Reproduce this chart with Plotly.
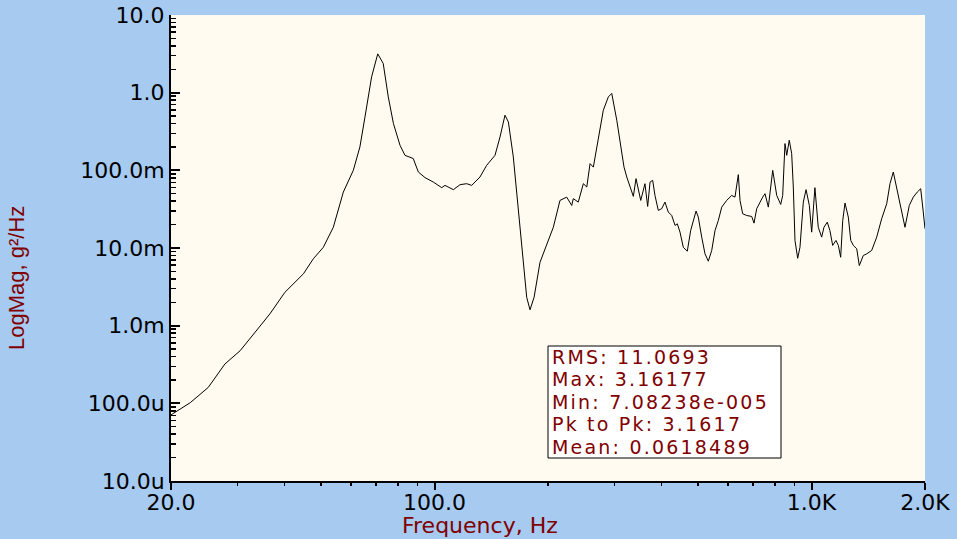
import plotly.graph_objects as go

# Frequency (Hz) and PSD magnitude (g^2/Hz)
freq_hz = [20, 22.5, 25.1, 27.8, 30.5, 33.1, 36.6, 40.1, 44.9, 47.7, 50.7, 53.9, 57.3, 60.9,
           63.4, 65.4, 68.1, 70.7, 73.1, 75.4, 77.8, 81.0, 83.5, 87.8, 90.6, 94.4, 99.3,
           104.5, 106.6, 112.2, 116.9, 121.7, 125.5, 132.0, 137.5, 144.7, 149.2, 153.8,
           157.0, 161.8, 166.8, 172.0, 175.6, 179.2, 183.7, 190.5, 198.4, 206.6, 215.2,
           224.2, 231.2, 233.4, 240.6, 248.2, 253.4, 258.6, 263.8, 269.4, 280.4, 289.1,
           295.2, 304.4, 310.4, 318.2, 323.6, 330.0, 336.8, 342.4, 352.4, 361.6, 367.6,
           373.0, 379.0, 384.4, 392.3, 400.6, 408.6, 417.0, 425.8, 434.6, 440.6, 447.9,
           457.0, 468.3, 478.0, 494.0, 500.8, 511.4, 521.8, 532.5, 543.6, 554.7, 566.0,
           577.9, 595.6, 614.2, 626.6, 639.6, 646.2, 656.8, 673.2, 694.0, 703.8, 715.6,
           730.0, 742.2, 752.8, 768.2, 789.0, 808.6, 828.5, 838.6, 850.4, 859.4, 873.0,
           885.9, 894.8, 904.0, 919.0, 932.0, 951.2, 967.2, 986.8, 1001, 1021, 1042, 1064,
           1079, 1101, 1119, 1138, 1161, 1178, 1195, 1210, 1227, 1252, 1271, 1291, 1318,
           1339, 1372, 1401, 1444, 1489, 1535, 1583, 1615, 1648, 1682, 1735, 1770, 1817,
           1862, 1908, 1948, 1979, 2000]

psd_g2hz = [7.1e-5, 1.02e-4, 1.60e-4, 3.21e-4, 4.75e-4, 7.82e-4, 1.42e-3, 2.69e-3, 4.65e-3,
            7.26e-3, 0.0102, 0.0185, 0.0525, 0.1, 0.2, 0.487, 1.60, 3.16, 2.38, 0.883, 0.401,
            0.210, 0.156, 0.142, 0.0951, 0.0805, 0.0706, 0.0598, 0.064, 0.0564, 0.0654,
            0.0673, 0.064, 0.082, 0.116, 0.156, 0.269, 0.513, 0.420, 0.149, 0.0336, 0.0069,
            0.00232, 0.0016, 0.00232, 0.00656, 0.0113, 0.0185, 0.041, 0.0452, 0.0353, 0.0432,
            0.039, 0.0673, 0.061, 0.122, 0.110, 0.190, 0.594, 0.883, 0.977, 0.442, 0.244,
            0.110, 0.082, 0.061, 0.0462, 0.0782, 0.041, 0.0673, 0.0343, 0.0706, 0.0743,
            0.0475, 0.0305, 0.0321, 0.039, 0.029, 0.0262, 0.0195, 0.0205, 0.016, 0.0102,
            0.0091, 0.0168, 0.0299, 0.025, 0.0138, 0.00841, 0.00676, 0.00929, 0.0168, 0.0226,
            0.0336, 0.041, 0.0475, 0.0452, 0.0881, 0.041, 0.0276, 0.0262, 0.0255, 0.0209,
            0.0321, 0.039, 0.0452, 0.05, 0.0336, 0.1, 0.0475, 0.0364, 0.0475, 0.221, 0.156,
            0.244, 0.164, 0.061, 0.0125, 0.00738, 0.0102, 0.039, 0.0564, 0.0353, 0.016,
            0.0598, 0.0185, 0.0138, 0.0185, 0.0215, 0.0168, 0.0108, 0.0125, 0.0108, 0.0076,
            0.0226, 0.0379, 0.025, 0.0125, 0.0108, 0.00977, 0.00594, 0.008, 0.00841, 0.00929,
            0.0138, 0.0238, 0.0372, 0.0673, 0.0951, 0.058, 0.029, 0.0185, 0.0353, 0.0452,
            0.0525, 0.058, 0.029, 0.0177]

x_tick_vals = [20, 100, 1000, 2000]
x_tick_text = ["20.0", "100.0", "1.0K", "2.0K"]
y_tick_vals = [1e-5, 1e-4, 1e-3, 1e-2, 1e-1, 1, 10]
y_tick_text = ["10.0u", "100.0u", "1.0m", "10.0m", "100.0m", "1.0", "10.0"]

stats_lines = ["RMS: 11.0693", "Max: 3.16177", "Min: 7.08238e-005",
               "Pk to Pk: 3.1617", "Mean: 0.0618489"]

BG = "#A6CAF0"
PLOT_BG = "#FFFBF0"
TITLE_RED = "#800000"
FONT = "DejaVu Sans"

# plot-area pixel frame (figure 957 x 539)
L, R, T, B = 171, 925, 15, 481
W, H = R - L, B - T


def px(xp):
    return (xp - L) / W


def py(yp):
    return (B - yp) / H


x_minor = [m * d for d in (10, 100) for m in range(2, 10)
           if 20 < m * d < 2000 and m * d not in (100, 1000)]
y_minor = [m * 10.0 ** e for e in range(-5, 1) for m in range(2, 10)]

fig = go.Figure()
fig.add_trace(go.Scatter(x=freq_hz, y=psd_g2hz, mode="lines",
                         line=dict(color="black", width=1), showlegend=False,
                         hoverinfo="skip"))

fig.update_layout(
    width=957, height=539,
    margin=dict(l=L, r=957 - R, t=T, b=539 - B, pad=0),
    paper_bgcolor=BG, plot_bgcolor=PLOT_BG,
    font=dict(family=FONT, color="black", size=22),
    hovermode=False,
    xaxis=dict(type="log", range=[1.30103, 3.30103], automargin=False,
               tickmode="array", tickvals=x_tick_vals, ticktext=x_tick_text,
               ticks="outside", ticklen=7, tickwidth=2, tickcolor="black",
               ticklabelstandoff=-6,
               showline=True, linecolor="black", linewidth=2,
               showgrid=False, zeroline=False,
               tickfont=dict(family=FONT, size=22, color="black"),
               minor=dict(tickmode="array", tickvals=x_minor, ticks="outside",
                          ticklen=3, tickwidth=1.5, tickcolor="black", showgrid=False)),
    yaxis=dict(type="log", range=[-5, 1], automargin=False,
               tickmode="array", tickvals=y_tick_vals, ticktext=y_tick_text,
               ticks="inside", ticklen=9, tickwidth=2, tickcolor="black",
               showline=True, linecolor="black", linewidth=2,
               showgrid=False, zeroline=False,
               tickfont=dict(family=FONT, size=22, color="black"),
               minor=dict(tickmode="array", tickvals=y_minor, ticks="inside",
                          ticklen=5, tickwidth=1.5, tickcolor="black", showgrid=False)),
)

# axis titles (centred on the figure like the original)
fig.add_annotation(text="Frequency, Hz", xref="paper", yref="paper",
                   x=px(480), y=py(525),
                   xanchor="center", yanchor="middle", showarrow=False,
                   font=dict(family=FONT, size=22, color=TITLE_RED))
fig.add_annotation(text="LogMag, g²/Hz", xref="paper", yref="paper",
                   x=px(16.5), y=py(278.5), textangle=-90,
                   xanchor="center", yanchor="middle", showarrow=False,
                   font=dict(family="Liberation Sans", size=22, color=TITLE_RED))

# statistics box
box_l, box_r, box_t, box_b = 548, 781, 346, 458
fig.add_shape(type="rect", xref="paper", yref="paper",
              x0=px(box_l), x1=px(box_r), y0=py(box_b), y1=py(box_t),
              fillcolor="white", line=dict(color="black", width=1), layer="above")
line_h = (box_b - box_t) / len(stats_lines)       # 22.5 px per line
stats_text = "<br>".join(
    '<span style="font-size:19px;letter-spacing:2.2px">%s</span>' % s for s in stats_lines)
fig.add_annotation(text=stats_text, xref="paper", yref="paper",
                   x=px(550), y=py((box_t + box_b) / 2), align="left",
                   xanchor="left", yanchor="middle", showarrow=False,
                   font=dict(family=FONT, size=line_h / 1.3, color=TITLE_RED))

fig.write_html("out.html", config={"displayModeBar": False, "staticPlot": True},
               post_script="document.body.style.margin='0';")
